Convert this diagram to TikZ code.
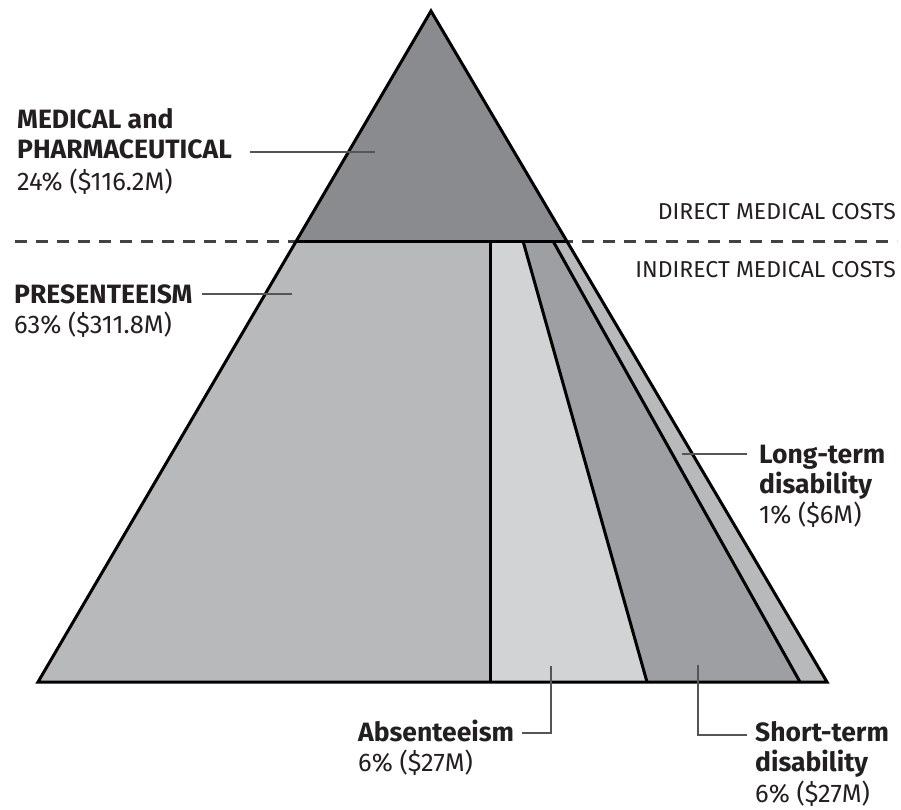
\documentclass[tikz,border=0pt]{standalone}
\usepackage{fontspec}
\setmainfont{Fira Sans}
\usetikzlibrary{calc}
\begin{document}
\begin{tikzpicture}[x=1pt,y=-1pt,
  lbl/.style={anchor=base west,inner sep=0pt,text=txt,font=\fontsize{26.5}{30}\selectfont\bfseries},
  val/.style={anchor=base west,inner sep=0pt,text=txt,font=\fontsize{25.5}{30}\selectfont},
  cat/.style={anchor=base east,inner sep=0pt,text=txt,font=\fontsize{23}{26}\selectfont},
  edge/.style={line width=3pt,draw=black,line join=miter},
  leader/.style={line width=1.5pt,draw=lead}]
\definecolor{txt}{HTML}{231F20}
\definecolor{lead}{HTML}{555555}
\definecolor{cTop}{HTML}{8A8B8E}
\definecolor{cPres}{HTML}{B8B9BB}
\definecolor{cAbs}{HTML}{D2D3D5}
\definecolor{cShort}{HTML}{9D9FA2}
\definecolor{cLong}{HTML}{B8B9BB}
\useasboundingbox (0,0) rectangle (901,809);
% geometry
\coordinate (A) at (431,11);
\coordinate (BL) at (38,682);
\coordinate (BR) at (827,682);
\coordinate (TL) at ($(A)!0.3428!(BL)$);
\coordinate (TR) at ($(A)!0.3428!(BR)$);
\coordinate (D1t) at (490,241);
\coordinate (D1b) at (490,682);
\coordinate (D2t) at (523,241);
\coordinate (D2b) at (647,682);
\coordinate (D3t) at (553,241);
\coordinate (D3b) at (800,682);
\coordinate (DL) at (15,241);
\coordinate (DR) at (897,241);
% dashed divider
\draw[line width=3pt,draw=txt!85,dash pattern=on 12pt off 9pt] (DL) -- (DR);
% fills
\fill[cTop] (A) -- (TL) -- (TR) -- cycle;
\fill[cPres] (TL) -- (D1t) -- (D1b) -- (BL) -- cycle;
\fill[cAbs] (D1t) -- (D2t) -- (D2b) -- (D1b) -- cycle;
\fill[cShort] (D2t) -- (D3t) -- (D3b) -- (D2b) -- cycle;
\fill[cLong] (D3t) -- (TR) -- (BR) -- (D3b) -- cycle;
% outlines
\draw[edge] (TL) -- (TR);
\draw[edge] (D1t) -- (D1b);
\draw[edge] (D2t) -- (D2b);
\draw[edge] (D3t) -- (D3b);
\draw[edge] (A) -- (BL) -- (BR) -- cycle;
% labels
\node[lbl] (med1) at (17,128) {MEDICAL and};
\node[lbl] (med2) at (17,158) {PHARMACEUTICAL};
\node[val] (med3) at (17,190) {24\% (\$116.2M)};
\node[lbl] (pre1) at (14,303) {PRESENTEEISM};
\node[val] (pre2) at (14,333) {63\% (\$311.8M)};
\node[lbl] (lt1) at (759,463) {Long-term};
\node[lbl] (lt2) at (759,493) {disability};
\node[val] (lt3) at (759,523) {1\% (\$6M)};
\node[lbl] (ab1) at (358,741) {Absenteeism};
\node[val] (ab2) at (358,771) {6\% (\$27M)};
\node[lbl] (st1) at (755,741) {Short-term};
\node[lbl] (st2) at (755,771) {disability};
\node[val] (st3) at (755,802) {6\% (\$27M)};
\node[cat] (dir) at (896,219) {DIRECT MEDICAL COSTS};
\node[cat] (ind) at (896,277) {INDIRECT MEDICAL COSTS};
% leaders
\coordinate (medS) at (250,152);
\coordinate (medE) at (375,152);
\coordinate (preS) at (202,294);
\coordinate (preE) at (292,294);
\coordinate (ltS) at (747,454);
\coordinate (ltE) at (682,454);
\coordinate (abS) at (522,733);
\coordinate (abC) at (551,733);
\coordinate (abE) at (551,666);
\coordinate (stS) at (747,735);
\coordinate (stC) at (698,735);
\coordinate (stE) at (698,665);
\draw[leader] (medS) -- (medE);
\draw[leader] (preS) -- (preE);
\draw[leader] (ltS) -- (ltE);
\draw[leader] (abS) -- (abC) -- (abE);
\draw[leader] (stS) -- (stC) -- (stE);
\end{tikzpicture}
\end{document}
